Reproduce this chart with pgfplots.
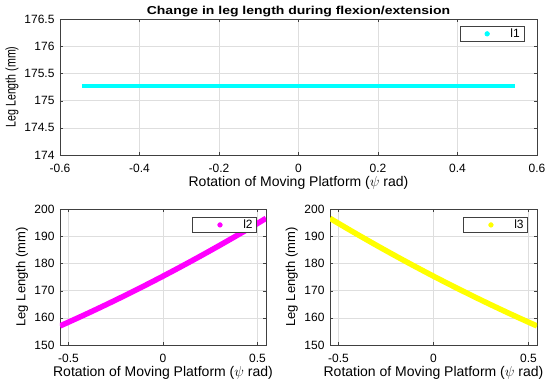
\documentclass[border=0pt]{standalone}
\usepackage{pgfplots}
\pgfplotsset{compat=1.18}
\usepackage{fontspec}
\setmainfont{Liberation Sans}
\pgfplotstableread{
x y
-0.545 175.27
0.545 175.27
}\dataA
\pgfplotstableread{
x y
-0.545 157.00
-0.50 158.40
-0.45 159.98
-0.40 161.58
-0.35 163.21
-0.30 164.86
-0.25 166.54
-0.20 168.24
-0.15 169.97
-0.10 171.72
-0.05 173.50
0.00 175.30
0.05 177.13
0.10 178.98
0.15 180.86
0.20 182.76
0.25 184.69
0.30 186.64
0.35 188.62
0.40 190.62
0.45 192.65
0.50 194.70
0.545 196.57
}\dataB
\pgfplotstableread{
x y
-0.545 196.57
-0.50 194.70
-0.45 192.65
-0.40 190.62
-0.35 188.62
-0.30 186.64
-0.25 184.69
-0.20 182.76
-0.15 180.86
-0.10 178.98
-0.05 177.13
0.00 175.30
0.05 173.50
0.10 171.72
0.15 169.97
0.20 168.24
0.25 166.54
0.30 164.86
0.35 163.21
0.40 161.58
0.45 159.98
0.50 158.40
0.545 157.00
}\dataC
\definecolor{gridc}{gray}{0.87}
\definecolor{axc}{gray}{0.25}
\definecolor{mcyan}{rgb}{0,1,1}
\definecolor{mmag}{rgb}{1,0,1}
\definecolor{myel}{rgb}{1,1,0}
\pgfplotsset{
  mystyle/.style={
    scale only axis,
    axis line style={axc},
    tick style={axc, major tick length=3pt},
    tick align=inside,
    grid=major,
    major grid style={gridc, line width=0.4pt},
    tick label style={font=\fontsize{12}{14}\selectfont, text=black},
    x tick label style={anchor=center, yshift=-13pt},
    y tick label style={anchor=east, xshift=-2pt},
    label style={font=\fontsize{14}{16}\selectfont},
    xlabel style={at={(axis description cs:0.5,0)}, anchor=center, yshift=-28pt},
    /pgf/number format/assume math mode=true,
    /pgf/number format/fixed,
    xtick pos=both, ytick pos=both,
    legend style={draw=axc, line width=0.6pt, font=\fontsize{12}{14}\selectfont, inner xsep=2pt, inner ysep=0.5pt, cells={anchor=west}},
    xlabel={Rotation of Moving Platform ($\psi$ rad)},
  }
}
\begin{document}
\begin{tikzpicture}
\useasboundingbox (0pt,0pt) rectangle (550pt,-385pt);
\begin{axis}[mystyle,
  at={(60pt,-155pt)}, anchor=south west,
  width=477pt, height=136pt,
  xmin=-0.6, xmax=0.6, ymin=174, ymax=176.5,
  xtick={-0.6,-0.4,...,0.6}, ytick={174,174.5,...,176.5},
  xticklabels={-0.6,-0.4,-0.2,0,0.2,0.4,0.6},
  yticklabels={174,174.5,175,175.5,176,176.5},
  title={\scalebox{1}[0.82]{Change in leg length during flexion/extension}},
  title style={font=\fontsize{14}{16}\selectfont\bfseries, anchor=base, yshift=-1pt},
  ylabel={\scalebox{0.76}[1]{Leg Length (mm)}},
  ylabel style={font=\fontsize{14}{16}\selectfont, at={(axis description cs:-0.1006,0.5)}, anchor=center},
  legend style={at={(0.973,0.949)}, anchor=north east},
]
\addplot[mcyan, line width=4.2pt, forget plot] table[x=x,y=y] {\dataA};
\addlegendimage{legend image code/.code={\path (0,-3pt) (46pt,3pt); \fill[mcyan] (25pt,0) circle (2.3pt);}}
\addlegendentry{l1}
\end{axis}
\begin{axis}[mystyle,
  at={(60pt,-345pt)}, anchor=south west,
  width=206pt, height=136pt,
  xmin=-0.545, xmax=0.545, ymin=150, ymax=200,
  xtick={-0.5,0,0.5}, ytick={150,160,...,200},
  xticklabels={-0.5,0,0.5},
  ylabel={Leg Length (mm)},
  ylabel style={font=\fontsize{13}{15}\selectfont, at={(axis description cs:-0.1845,0.5)}, anchor=center},
  legend style={at={(0.956,0.941)}, anchor=north east},
]
\addplot[mmag, line width=5.5pt, forget plot] table[x=x,y=y] {\dataB};
\addlegendimage{legend image code/.code={\path (0,-3pt) (46pt,3pt); \fill[mmag] (25pt,0) circle (2.3pt);}}
\addlegendentry{l2}
\end{axis}
\begin{axis}[mystyle,
  at={(330pt,-345pt)}, anchor=south west,
  width=207pt, height=136pt,
  xmin=-0.545, xmax=0.545, ymin=150, ymax=200,
  xtick={-0.5,0,0.5}, ytick={150,160,...,200},
  xticklabels={-0.5,0,0.5},
  ylabel={Leg Length (mm)},
  ylabel style={font=\fontsize{13}{15}\selectfont, at={(axis description cs:-0.1845,0.5)}, anchor=center},
  legend style={at={(0.956,0.941)}, anchor=north east},
]
\addplot[myel, line width=5.5pt, forget plot] table[x=x,y=y] {\dataC};
\addlegendimage{legend image code/.code={\path (0,-3pt) (46pt,3pt); \fill[myel] (25pt,0) circle (2.3pt);}}
\addlegendentry{l3}
\end{axis}
\end{tikzpicture}
\end{document}
